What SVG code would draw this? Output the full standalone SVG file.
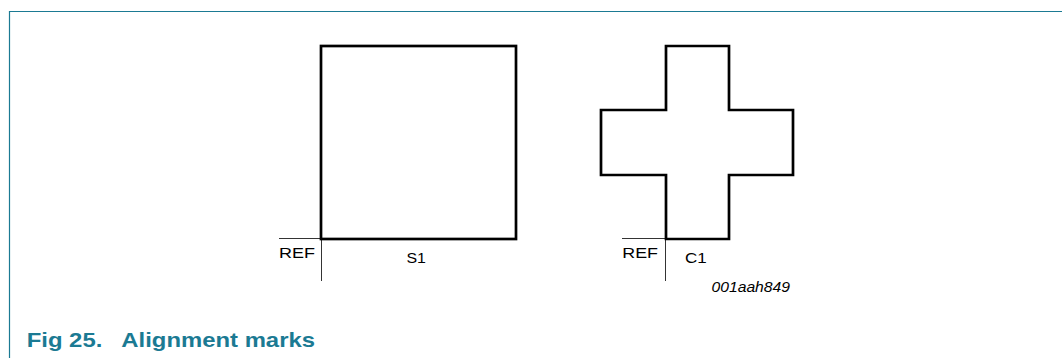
<svg xmlns="http://www.w3.org/2000/svg" width="1062" height="358" viewBox="0 0 1062 358">
<style>
.shape{fill:none;stroke:#000;stroke-width:2.7;stroke-linejoin:miter}
.thin{fill:none;stroke:#000;stroke-width:0.8}
.lbl{font-family:"Liberation Sans",Arial,sans-serif;font-size:14.5px;fill:#000}
.code{font-family:"Liberation Sans",Arial,sans-serif;font-size:14.5px;font-style:italic;fill:#000}
.title{font-family:"Liberation Sans",Arial,sans-serif;font-size:21px;font-weight:bold;fill:#1b7a93}
</style>
<rect width="1062" height="358" fill="#fff"/>
<path d="M9.5 358 V11.5 H1062" fill="none" stroke="#1b7a93" stroke-width="1.2"/>
<g id="S1">
<rect class="shape" x="321" y="46" width="195" height="193"/>
<text class="lbl" x="406.5" y="263" textLength="19.5" lengthAdjust="spacingAndGlyphs">S1</text>
</g>
<g id="REF1">
<path class="thin" d="M279 238.5 H321 M321.5 239 V281"/>
<text class="lbl" x="279" y="258" textLength="36" lengthAdjust="spacingAndGlyphs">REF</text>
</g>
<g id="C1">
<path class="shape" d="M666 46 H729 V110 H793 V175 H729 V239 H666 V175 H601 V110 H666 Z"/>
<text class="lbl" x="685" y="263" textLength="21.7" lengthAdjust="spacingAndGlyphs">C1</text>
</g>
<g id="REF2">
<path class="thin" d="M622 238.5 H666 M665.5 239 V281"/>
<text class="lbl" x="622.3" y="258" textLength="35.7" lengthAdjust="spacingAndGlyphs">REF</text>
</g>
<text class="code" x="711.5" y="292" textLength="78.5" lengthAdjust="spacingAndGlyphs">001aah849</text>
<text class="title" x="26.7" y="347" xml:space="preserve" textLength="288.3" lengthAdjust="spacingAndGlyphs">Fig 25.   Alignment marks</text>
</svg>
